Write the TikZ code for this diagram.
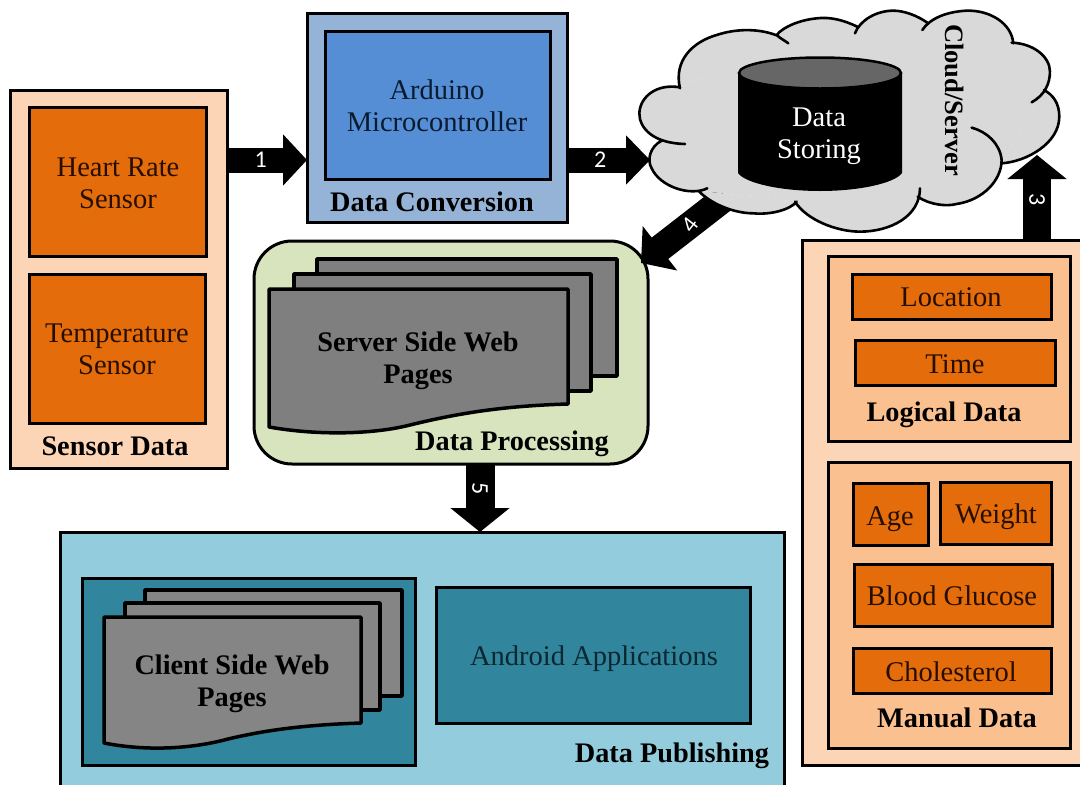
\documentclass[tikz,border=0pt]{standalone}
\usepackage{fontspec}
\setmainfont{Liberation Serif}
\newfontfamily\numfont{Carlito}
\usetikzlibrary{arrows.meta}
\definecolor{cOrange}{HTML}{E46C0A}
\definecolor{cPeach}{HTML}{FBD5B5}
\definecolor{cPeachB}{HTML}{FAC090}
\definecolor{cBlue}{HTML}{558ED5}
\definecolor{cBlueL}{HTML}{95B3D7}
\definecolor{cGreen}{HTML}{D7E4BD}
\definecolor{cTeal}{HTML}{31859C}
\definecolor{cSky}{HTML}{93CDDD}
\definecolor{cCloud}{HTML}{D9D9D9}
\definecolor{cPage}{HTML}{7F7F7F}
\definecolor{cPageB}{HTML}{858585}
\definecolor{cCylTop}{HTML}{666666}
\definecolor{cInk}{HTML}{260F00}
\definecolor{cInkT}{HTML}{0B2730}
\definecolor{cInkB}{HTML}{0A1B30}
\tikzset{
  every node/.style={font=\fontsize{28.5}{32}\selectfont, align=center, inner sep=0pt, outer sep=0pt},
  boxed/.style={draw=black, line width=3pt, anchor=north west},
  title/.style={font=\fontsize{28.3}{32}\selectfont\bfseries, text=black},
  inkO/.style={text=cInk},
  page/.style={draw=black, line width=3.5pt, line join=round},
  blockarrow/.style 2 args={line width=#1, -{Triangle[length=24pt,width=#2]}, draw=black},
  num/.style={font=\numfont\fontsize{24}{26}\selectfont, text=white},
  lobe/.style={draw=black, line width=2.6pt, line cap=round},
}
\newcommand{\pbox}[6]{% name, x1,y1,x2,y2, fill
  \pgfmathsetmacro{\pw}{#4-#2-1}\pgfmathsetmacro{\ph}{#5-#3-1}
  \node[boxed, fill=#6, minimum width=\pw pt, minimum height=\ph pt] (#1) at (#2,#3) {};
}
\newcommand{\cloudlobes}{
  (180,262) .. controls (110,250) and (60,290) .. (58,340) .. controls (58,385) and (100,430) .. (195,432)
  (125,422) .. controls (90,440) and (80,480) .. (95,505) .. controls (120,560) and (210,590) .. (262,565)
  (235,572) .. controls (270,610) and (340,640) .. (400,640) .. controls (450,645) and (510,630) .. (530,605)
  (525,605) .. controls (560,660) and (650,695) .. (720,695) .. controls (810,695) and (900,650) .. (900,565)
  (893,590) .. controls (930,615) and (980,620) .. (1010,612) .. controls (1090,600) and (1145,540) .. (1145,480) .. controls (1140,430) and (1100,395) .. (1055,383)
  (1145,490) .. controls (1220,485) and (1318,430) .. (1318,350) .. controls (1318,310) and (1300,285) .. (1272,270)
  (1235,307) .. controls (1275,285) and (1290,250) .. (1290,215) .. controls (1290,170) and (1240,130) .. (1175,128)
  (1180,130) .. controls (1175,70) and (1110,30) .. (1040,32) .. controls (980,35) and (930,55) .. (907,90)
  (925,70) .. controls (890,45) and (850,32) .. (820,32) .. controls (770,32) and (720,60) .. (705,100)
  (712,80) .. controls (670,60) and (630,50) .. (590,55) .. controls (540,60) and (490,80) .. (470,105) .. controls (480,115) and (495,122) .. (505,130)
  (475,108) .. controls (420,85) and (350,85) .. (290,105) .. controls (220,125) and (160,180) .. (180,265)
}
\begin{document}
\begin{tikzpicture}[x=1pt,y=-1pt]
\useasboundingbox (0,0) rectangle (1080,785);
\clip (0,0) rectangle (1080,785);
\fill[white] (0,0) rectangle (1080,785);

% processing block comes first, so that connector 4 lies on it and under the cloud
\node[boxed, fill=cGreen, rounded corners=38pt, minimum width=394pt, minimum height=223pt] (proc) at (254,241) {};
\coordinate (cloudB) at (726,197);
\coordinate (e4) at (641,263);
\draw[blockarrow={27pt}{55pt}] (cloudB) -- node[num, rotate=52, pos=0.42] {4} (e4);

% cloud
\begin{scope}[shift={(620,0)},x=0.3333pt,y=-0.3333pt]
\fill[cCloud] (180,265) -- (125,422) -- (235,572) -- (525,605) -- (893,590) -- (1145,490) -- (1272,270) -- (1175,128) -- (925,70) -- (712,80) -- (475,108) -- cycle;
\fill[cCloud,nonzero rule] \cloudlobes;
\draw[lobe] \cloudlobes;
\end{scope}
\node[rotate=-90, font=\fontsize{26.5}{30}\selectfont\bfseries] (cloudlabel) at (955,100) {Cloud/Server};
\coordinate (cloudL) at (650,160);
\coordinate (cloudR) at (1037,155);

% cylinder
\fill[black] (738,73) -- (738,173) .. controls (745,183) and (780,191) .. (820,191) .. controls (860,191) and (895,183) .. (902,173) -- (902,73) -- cycle;
\draw[draw=black, line width=2.5pt, fill=cCylTop] (820,73) ellipse [x radius=81pt, y radius=15.5pt];
\node[text=white] (storing) at (819,136) {Data\\Storing};

% sensor block
\pbox{sensor}{10}{90}{228}{469}{cPeach}
\pbox{heart}{29}{107}{207}{257}{cOrange}
\pbox{temp}{29}{274}{206}{424}{cOrange}
\node[inkO] (heartT) at (118,183) {Heart Rate\\Sensor};
\node[inkO] (tempT) at (117,349) {Temperature\\Sensor};
\node[title] (sensorT) at (115,446) {Sensor Data};

% conversion block
\pbox{conv}{307}{13}{568}{223}{cBlueL}
\pbox{ardu}{325}{31}{551}{180}{cBlue}
\node[text=cInkB] (arduT) at (437,106) {Arduino\\Microcontroller};
\node[title] (convT) at (432,202) {Data Conversion};

% processing contents
\draw[page, fill=cPage] (317,259) -- (617,259) -- (617,376) -- (317,376) -- cycle;
\draw[page, fill=cPage] (294,274) -- (591,274) -- (591,391) -- (294,391) -- cycle;
\draw[page, fill=cPage] (269,289) -- (568,289) -- (568,404) .. controls (500,406) and (455,414) .. (410,425) .. controls (375,434) and (320,436) .. (269,427) -- cycle;
\node[title] (serverT) at (418,361) {Server Side Web\\Pages};
\node[title] (procT) at (512,444) {Data Processing};

% publishing block
\pbox{pub}{60}{532}{785}{800}{cSky}
\pbox{client}{82}{578}{416}{766}{cTeal}
\draw[page, fill=cPageB] (145,590) -- (402,590) -- (402,696) -- (145,696) -- cycle;
\draw[page, fill=cPageB] (125,603) -- (380,603) -- (380,710) -- (125,710) -- cycle;
\draw[page, fill=cPageB] (104,617) -- (361,617) -- (361,723) .. controls (300,725) and (262,731) .. (228,739) .. controls (195,748) and (150,752) .. (104,743) -- cycle;
\node[title] (clientT) at (232,684) {Client Side Web\\Pages};
\pbox{android}{436}{587}{751}{724}{cTeal}
\node[text=cInkT] (androidT) at (594,659) {Android Applications};
\node[title] (pubT) at (672,756) {Data Publishing};

% data block
\pbox{data}{802}{240}{1090}{766}{cPeach}
\pbox{logical}{828}{256}{1071}{442}{cPeachB}
\pbox{location}{852}{274}{1052}{320}{cOrange}
\pbox{time}{855}{340}{1056}{386}{cOrange}
\node[inkO] (locT) at (951,297) {Location};
\node[inkO] (timeT) at (955,364) {Time};
\node[title] (logT) at (944,415) {Logical Data};
\pbox{manual}{828}{462}{1071}{749}{cPeachB}
\pbox{age}{853}{483}{929}{546}{cOrange}
\pbox{weight}{940}{482}{1052}{545}{cOrange}
\pbox{glucose}{854}{564}{1053}{627}{cOrange}
\pbox{chol}{853}{648}{1052}{694}{cOrange}
\node[inkO] (ageT) at (890,519) {Age};
\node[inkO] (weightT) at (996,517) {Weight};
\node[inkO] (gluT) at (952,596) {Blood Glucose};
\node[inkO] (cholT) at (951,672) {Cholesterol};
\node[title] (manT) at (957,718) {Manual Data};

% connectors
\coordinate (s1) at (sensor.north east |- 0,160);
\coordinate (e1) at (conv.north west |- 0,160);
\draw[blockarrow={25pt}{50pt}] (s1) -- node[num, pos=0.42] {1} (e1);
\coordinate (s2) at (conv.north east |- 0,160);
\draw[blockarrow={25pt}{48pt}] (s2) -- node[num, pos=0.4] {2} (cloudL);
\coordinate (s3) at (cloudR |- data.north);
\draw[blockarrow={28pt}{58pt}] (s3) -- node[num, rotate=-90, pos=0.47] {3} (cloudR);
\coordinate (s5) at (480,465);
\coordinate (e5) at (480,532);
\draw[blockarrow={29pt}{58pt}] (s5) -- node[num, rotate=-90, pos=0.35] {5} (e5);
\end{tikzpicture}
\end{document}
